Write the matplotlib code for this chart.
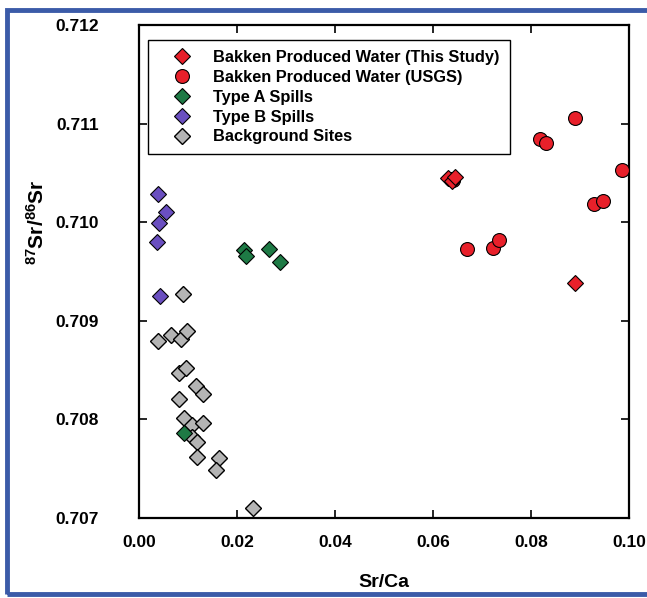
import matplotlib
matplotlib.use('Agg')
import matplotlib.pyplot as plt
from matplotlib.patches import Rectangle

plt.rcParams['font.family'] = 'Liberation Sans'
plt.rcParams['font.weight'] = 'bold'
plt.rcParams['mathtext.fontset'] = 'custom'
plt.rcParams['mathtext.rm'] = 'Liberation Sans:bold'
plt.rcParams['mathtext.bf'] = 'Liberation Sans:bold'
plt.rcParams['mathtext.default'] = 'rm'

# Bakken produced water (this study) - diamonds
this_x = [0.0630, 0.0638, 0.0645, 0.0890]
this_y = [0.71045, 0.71042, 0.71046, 0.70938]

# Bakken produced water (USGS) - circles
usgs_x = [0.0890, 0.0818, 0.0831, 0.0986, 0.0929, 0.0947, 0.0669, 0.0722, 0.0735, 0.0636, 0.0642]
usgs_y = [0.71106, 0.71084, 0.71080, 0.71053, 0.71018, 0.71021, 0.70973, 0.70974, 0.70982, 0.71044, 0.71043]

# Type A spills
typea_x = [0.0215, 0.0218, 0.0265, 0.0288, 0.0092]
typea_y = [0.70972, 0.70966, 0.70973, 0.70960, 0.70786]

# Type B spills
typeb_x = [0.0038, 0.0056, 0.0041, 0.0036, 0.0042]
typeb_y = [0.71029, 0.71010, 0.70999, 0.70980, 0.70925]

# Background sites
bg_x = [0.0090, 0.0039, 0.0065, 0.0086, 0.0098, 0.0082, 0.0096, 0.0116, 0.0131,
        0.0082, 0.0092, 0.0108, 0.0131, 0.0108, 0.0118, 0.0118, 0.0163, 0.0157, 0.0233]
bg_y = [0.70927, 0.70880, 0.70886, 0.70882, 0.70890, 0.70847, 0.70852, 0.70834, 0.70826,
        0.70821, 0.70801, 0.70794, 0.70796, 0.70782, 0.70777, 0.70762, 0.70761, 0.70749, 0.70710]

fig = plt.figure(figsize=(6.47, 5.98), dpi=100)
ax = fig.add_axes([0.2148, 0.1338, 0.7572, 0.8244])

ax.plot(this_x, this_y, 'D', color='#e8202a', mec='black', mew=0.8, ms=8, zorder=4,
        label='Bakken Produced Water (This Study)')
ax.plot(usgs_x, usgs_y, 'o', color='#e8202a', mec='black', mew=0.8, ms=10, zorder=3,
        label='Bakken Produced Water (USGS)')
ax.plot(typea_x, typea_y, 'D', color='#1e7a45', mec='black', mew=0.8, ms=8, zorder=3,
        label='Type A Spills')
ax.plot(typeb_x, typeb_y, 'D', color='#6a4fc0', mec='black', mew=0.8, ms=8, zorder=3,
        label='Type B Spills')
ax.plot(bg_x, bg_y, 'D', color='#b4b4b4', mec='black', mew=1.0, ms=8, zorder=2,
        label='Background Sites')

ax.set_xlim(0, 0.1)
ax.set_ylim(0.707, 0.712)
ax.set_xticks([0, 0.02, 0.04, 0.06, 0.08, 0.10])
ax.set_xticklabels(['0.00', '0.02', '0.04', '0.06', '0.08', '0.10'])
ax.set_yticks([0.707, 0.708, 0.709, 0.710, 0.711, 0.712])
ax.set_yticklabels(['0.707', '0.708', '0.709', '0.710', '0.711', '0.712'])
ax.tick_params(direction='in', top=True, right=True, length=6, width=1.2, labelsize=12.5)
ax.tick_params(axis='x', pad=12)
ax.tick_params(axis='y', pad=29)
for s in ax.spines.values():
    s.set_linewidth(1.6)

ax.set_xlabel('Sr/Ca', fontsize=14, fontweight='bold')
ax.xaxis.set_label_coords(0.5, -0.114)
ax.set_ylabel(r'$^{87}$Sr/$^{86}$Sr', fontsize=15, fontweight='bold')
ax.yaxis.set_label_coords(-0.186, 0.60)

leg = ax.legend(loc='upper left', bbox_to_anchor=(0.018, 0.9696), fancybox=False,
                edgecolor='black', fontsize=11.8, handletextpad=0.4, borderpad=0.6,
                labelspacing=0.3, handlelength=3.0, framealpha=1, borderaxespad=0)
leg.get_frame().set_linewidth(1.0)

fig.patches.append(Rectangle((7 / 647, 4 / 598), 1.0, 584 / 598, transform=fig.transFigure,
                             fill=False, edgecolor='#3b5ba8', linewidth=3.5))

fig.savefig('out.png', dpi=100)
